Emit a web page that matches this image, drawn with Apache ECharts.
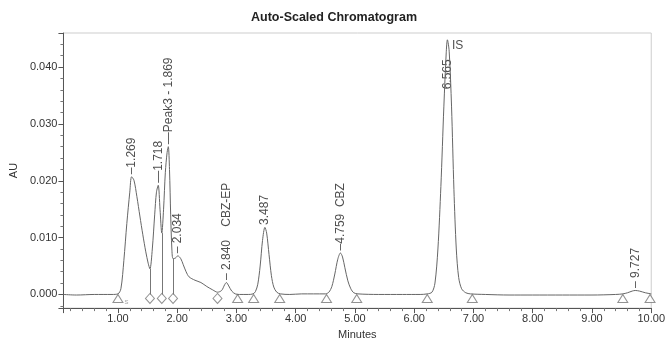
<!DOCTYPE html>
<html>
<head>
<meta charset="utf-8">
<script src="https://cdn.jsdelivr.net/npm/echarts@6/dist/echarts.min.js"></script>
<style>
  html, body { margin: 0; padding: 0; background: #fff; }
  #chart { width: 668px; height: 345px; }
</style>
</head>
<body>
<div id="chart"></div>
<script>
// detector trace (minutes, AU)
const times = [
  0.08, 0.30, 0.60, 0.90, 1.00, 1.05, 1.10, 1.15, 1.20, 1.23,
  1.27, 1.32, 1.37, 1.42, 1.47, 1.51, 1.54, 1.58, 1.62, 1.65,
  1.68, 1.71, 1.74, 1.77, 1.80, 1.83, 1.85, 1.87, 1.89, 1.91,
  1.93, 1.97, 2.01, 2.06, 2.10, 2.15, 2.20, 2.30, 2.40, 2.50,
  2.60, 2.68, 2.75, 2.80, 2.83, 2.87, 2.92, 2.98, 3.05, 3.20,
  3.28, 3.32, 3.36, 3.40, 3.44, 3.48, 3.51, 3.55, 3.59, 3.63,
  3.68, 3.74, 3.90, 4.10, 4.30, 4.50, 4.56, 4.61, 4.66, 4.71,
  4.755, 4.79, 4.83, 4.88, 4.93, 4.98, 5.05, 5.40, 5.80, 6.10,
  6.22, 6.30, 6.35, 6.40, 6.45, 6.50, 6.54, 6.56, 6.59, 6.63,
  6.67, 6.71, 6.75, 6.80, 6.87, 6.95, 7.20, 7.60, 8.00, 8.50,
  9.00, 9.40, 9.52, 9.60, 9.68, 9.73, 9.80, 9.90, 10.00
]
const absorbance = [
  0.0000, -0.0001, 0.0000, 0.0000, 0.0001, 0.0010, 0.0060, 0.0125, 0.0180, 0.0207,
  0.0201, 0.0172, 0.0138, 0.0105, 0.0075, 0.0055, 0.0045, 0.0080, 0.0140, 0.0180,
  0.0192, 0.0150, 0.0108, 0.0150, 0.0215, 0.0250, 0.0260, 0.0220, 0.0140, 0.0080,
  0.0063, 0.0064, 0.0068, 0.0063, 0.0053, 0.0040, 0.0031, 0.0025, 0.0021, 0.0014,
  0.0008, 0.0004, 0.0007, 0.0017, 0.0021, 0.0015, 0.0006, 0.0001, 0.0000, 0.0000,
  0.0001, 0.0005, 0.0018, 0.0050, 0.0095, 0.0118, 0.0108, 0.0070, 0.0033, 0.0013,
  0.0004, 0.0001, 0.0000, 0.0001, 0.0001, 0.0001, 0.0004, 0.0014, 0.0036, 0.0062,
  0.0073, 0.0066, 0.0047, 0.0024, 0.0010, 0.0003, 0.0001, 0.0000, 0.0000, 0.0000,
  0.0001, 0.0004, 0.0020, 0.0080, 0.0190, 0.0330, 0.0425, 0.0448, 0.0428, 0.0330,
  0.0185, 0.0080, 0.0030, 0.0010, 0.0003, 0.0001, 0.0000, -0.0001, -0.0001, -0.0001,
  -0.0001, 0.0000, 0.0001, 0.0003, 0.0006, 0.0007, 0.0006, 0.0003, 0.0001
]

// peak apexes and their annotations
const peakTimes = [1.23, 1.68, 1.85, 2.01, 2.83, 3.48, 4.755, 6.56, 9.73]
const peakHeights = [0.0207, 0.0192, 0.0260, 0.0068, 0.0021, 0.0118, 0.0073, 0.0448, 0.0007]
const retentionLabels = ['1.269', '1.718', '1.869', '2.034', '2.840', '3.487', '4.759', '6.565', '9.727']
const peakNames = ['', '', 'Peak3', '', 'CBZ-EP', '', 'CBZ', 'IS', '']

// integration marks on the baseline
const triangleTimes = [1.00, 3.02, 3.29, 3.73, 4.52, 5.03, 6.22, 6.98, 9.52, 9.98]
const diamondTimes = [1.54, 1.74, 1.93, 2.68]
const dropTimes = [1.54, 1.74, 1.93]
const dropLevels = [0.0045, 0.0108, 0.0063]

const font = 'Liberation Sans, Arial, sans-serif'
const ink = '#333'
const traceColor = '#666'

// per-peak label tweaks: leader dash, gap before the name, shift (rotated frame)
const leaders = ['\u2013', '\u2014', '\u2014', '\u2013 ', '\u2013 ', '', '\u2013', '', '\u2013 ']
const nameGaps = { 4: '    ', 6: '  ' }
const labelShift = { 7: [-52, 0] }

function peakText(i) {
  const rt = retentionLabels[i]
  const name = peakNames[i]
  const lead = leaders[i]
  if (name === 'IS') return rt
  if (name.startsWith('Peak')) return lead + name + ' - ' + rt
  if (name) return lead + rt + (nameGaps[i] || '   ') + name
  return lead + rt
}

const chart = echarts.init(document.getElementById('chart'), null, { renderer: 'canvas' })

const trace = times.map((t, i) => [t, absorbance[i]])
const onMultiple = (v, step) => Math.abs(v / step - Math.round(v / step)) < 1e-6

const option = {
  animation: false,
  backgroundColor: '#fff',
  title: {
    text: 'Auto-Scaled Chromatogram',
    left: 'center',
    top: 11,
    padding: 0,
    textStyle: { fontFamily: font, fontSize: 12.5, fontWeight: 'bold', color: '#222' },
  },
  grid: {
    left: 62, right: 11, top: 33, bottom: 31,
    show: true, borderColor: '#cdcdcd', borderWidth: 1,
  },
  xAxis: {
    type: 'value',
    min: 0.08,
    max: 10,
    splitNumber: 10,
    name: 'Minutes',
    nameLocation: 'middle',
    nameGap: 18,
    nameTextStyle: { fontFamily: font, fontSize: 11, color: ink },
    axisLine: { onZero: false, lineStyle: { color: '#555' } },
    axisTick: { length: 5, lineStyle: { color: '#555' } },
    minorTick: { show: true, splitNumber: 5, length: 3, lineStyle: { color: '#777' } },
    axisLabel: {
      fontFamily: font, fontSize: 11, color: ink, margin: 5,
      formatter: (v) => (onMultiple(v, 1) ? v.toFixed(2) : ''),
    },
    splitLine: { show: false },
  },
  yAxis: {
    type: 'value',
    min: -0.0024,
    max: 0.046,
    splitNumber: 5,
    name: 'AU',
    nameLocation: 'middle',
    nameGap: 41,
    nameTextStyle: { fontFamily: font, fontSize: 11, color: ink },
    axisLine: { show: true, onZero: false, lineStyle: { color: '#555' } },
    axisTick: { show: true, length: 5, lineStyle: { color: '#555' } },
    minorTick: { show: true, splitNumber: 5, length: 3, lineStyle: { color: '#777' } },
    axisLabel: {
      fontFamily: font, fontSize: 11, color: ink, margin: 6,
      formatter: (v) => (onMultiple(v, 0.01) ? v.toFixed(3) : ''),
    },
    splitLine: { show: false },
  },
  series: [
    {
      name: 'trace',
      type: 'line',
      data: trace,
      symbol: 'none',
      smooth: 0.3,
      lineStyle: { color: traceColor, width: 1 },
      silent: true,
      markLine: {
        silent: true,
        symbol: 'none',
        label: { show: false },
        lineStyle: { color: '#777', width: 1, type: 'solid' },
        data: dropTimes.map((t, i) => [{ coord: [t, dropLevels[i]] }, { coord: [t, 0] }]),
      },
    },
    {
      name: 'valley marks',
      type: 'scatter',
      data: diamondTimes.map((t) => [t, 0]),
      symbol: 'diamond',
      symbolSize: [9, 10],
      symbolOffset: [0, 4],
      itemStyle: { color: '#fff', borderColor: '#777', borderWidth: 1 },
      silent: true,
    },
    {
      name: 'baseline marks',
      type: 'scatter',
      data: triangleTimes.map((t, i) => ({
        value: [t, 0],
        label: i === 0
          ? { show: true, formatter: 's', position: 'right', distance: 1, offset: [0, 3], fontSize: 8, color: '#999', fontFamily: font }
          : { show: false },
      })),
      symbol: 'triangle',
      symbolSize: [10, 8],
      symbolOffset: [0, 4],
      itemStyle: { color: '#fff', borderColor: '#777', borderWidth: 1 },
      silent: true,
    },
    {
      name: 'retention times',
      type: 'scatter',
      data: peakTimes.map((t, i) => ({
        value: [t, peakHeights[i]],
        label: { formatter: peakText(i), offset: labelShift[i] || [0, 0] },
      })),
      symbolSize: 1,
      itemStyle: { color: 'rgba(0,0,0,0)' },
      silent: true,
      label: {
        show: true,
        position: 'top',
        distance: 2,
        rotate: 90,
        align: 'left',
        verticalAlign: 'middle',
        fontFamily: font,
        fontSize: 12,
        color: '#222',
      },
    },
    {
      name: 'IS tag',
      type: 'scatter',
      data: peakTimes
        .map((t, i) => ({ value: [t, peakHeights[i]], name: peakNames[i] }))
        .filter((d) => d.name === 'IS'),
      symbolSize: 1,
      itemStyle: { color: 'rgba(0,0,0,0)' },
      silent: true,
      label: {
        show: true,
        position: 'right',
        distance: 4,
        offset: [0, 6],
        formatter: (p) => p.name,
        fontFamily: font,
        fontSize: 12,
        color: '#222',
      },
    },
  ],
}

chart.setOption(option)
</script>
</body>
</html>
